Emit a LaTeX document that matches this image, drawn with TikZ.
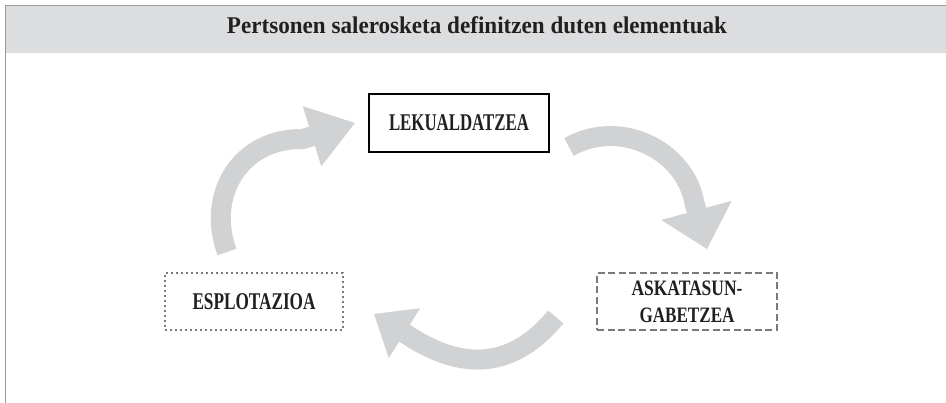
\documentclass[tikz,border=0pt]{standalone}
\usepackage{fontspec}
\setmainfont{Liberation Serif}
\usetikzlibrary{arrows.meta}
\definecolor{arrowgray}{HTML}{D1D2D4}
\definecolor{headgray}{HTML}{DCDDDF}
\definecolor{rulegray}{HTML}{9A9A9A}
\definecolor{boxgray}{HTML}{7A7A7A}
\definecolor{ink}{HTML}{231F20}
\begin{document}
\begin{tikzpicture}[x=1pt,y=-1pt,
  lbl/.style={font=\fontsize{24pt}{27pt}\selectfont\bfseries, text=ink, inner sep=0pt, align=center},
  solidbox/.style={lbl, draw=black, line width=2pt, minimum width=180pt, minimum height=58pt},
  dottedbox/.style={lbl, draw=boxgray, line width=1.8pt, dash pattern=on 1.6pt off 3.4pt, minimum width=178pt, minimum height=57pt},
  dashedbox/.style={lbl, draw=boxgray, line width=1.8pt, dash pattern=on 7pt off 3.5pt, minimum width=180pt, minimum height=57pt},
  bigarrow/.style 2 args={draw=arrowgray, line width=20pt, line join=round,
    -{Triangle[width=#1, length=#2, line width=0pt]}},
]
\useasboundingbox (0,0) rectangle (946,403);
% header
\fill[headgray] (5,5) rectangle (946,53);
\draw[rulegray, line width=1.5pt] (5,5.5) -- (946,5.5);
\draw[rulegray, line width=1.5pt] (5.5,5) -- (5.5,403);
\node[lbl, anchor=base] (title) at (477,34)
  {\resizebox{500pt}{\height}{Pertsonen salerosketa definitzen duten elementuak}};

% boxes
\node[solidbox] (lek) at (459,123) {\resizebox{140pt}{\height}{LEKUALDATZEA}};
\node[dottedbox] (esp) at (254,301.5) {\resizebox{123pt}{\height}{ESPLOTAZIOA}};
\node[dashedbox, font=\fontsize{22pt}{27pt}\selectfont\bfseries] (ask) at (687,301.5)
  {\resizebox{111pt}{\height}{ASKATASUN-}\\\resizebox{95pt}{\height}{GABETZEA}};

% arrow coordinates
\coordinate (s1) at (227,252);
\coordinate (k1) at (303,139);
\coordinate (t1) at (355,123);
\coordinate (s2) at (569,147);
\coordinate (k2) at (694.4,202.8);
\coordinate (t2) at (707,249);
\coordinate (s3) at (555.8,317);
\coordinate (k3) at (411,337.3);
\coordinate (t3) at (374,314);

\draw[bigarrow={63pt}{45pt}] (s1) .. controls (206,195) and (240,138) .. (k1) -- (t1);
\draw[bigarrow={73pt}{40pt}] (s2) .. controls (620,118) and (685,150) .. (k2) -- (t2);
\draw[bigarrow={59pt}{36pt}] (s3) .. controls (514.2,367) and (466,371.9) .. (k3) -- (t3);
\end{tikzpicture}
\end{document}
